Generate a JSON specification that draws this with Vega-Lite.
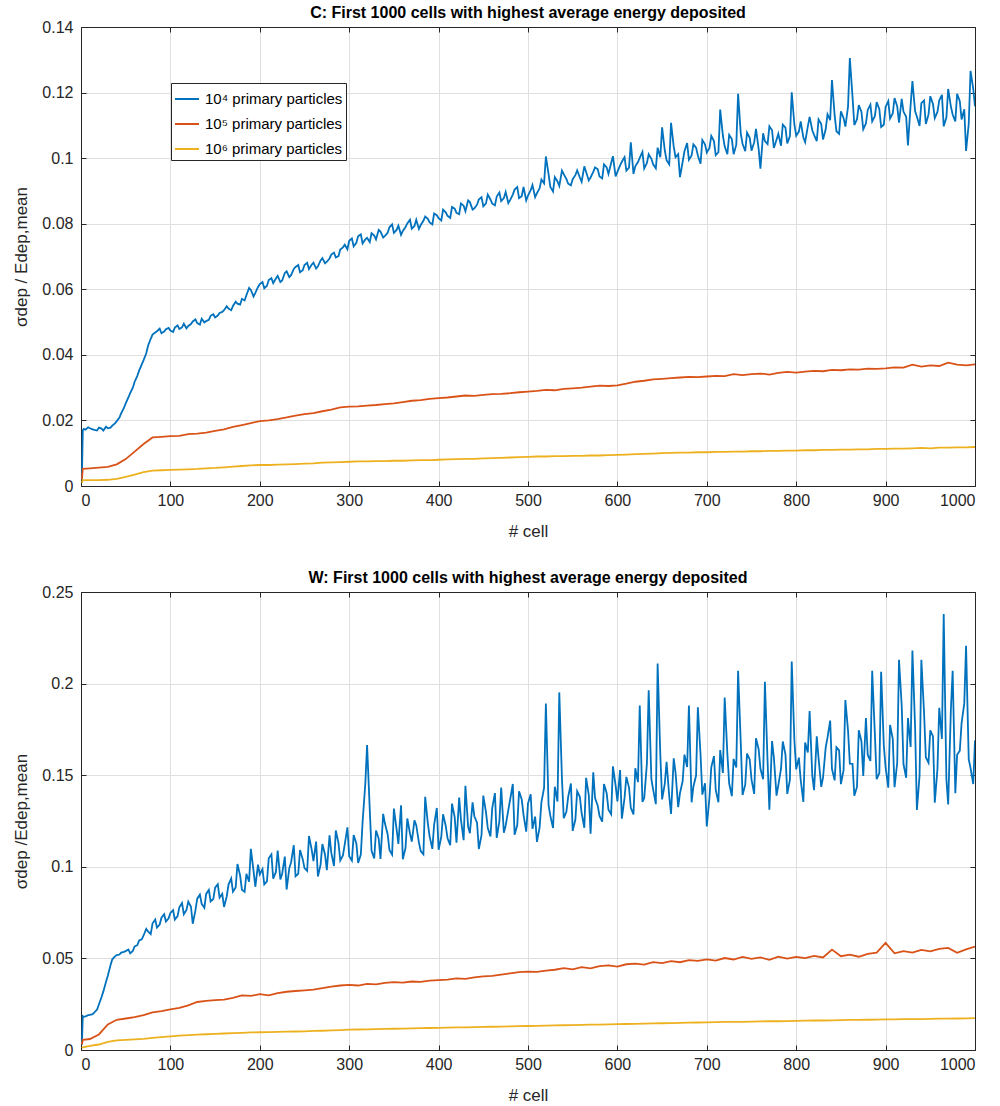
{
"$schema": "https://vega.github.io/schema/vega-lite/v6.json",
"background": "white",
"padding": {"left": 12, "right": 5, "top": 5, "bottom": 5},
"bounds": "flush",
"spacing": 106,
"config": {
 "font": "Liberation Sans",
 "view": {"stroke": null},
 "title": {"fontSize": 16, "fontWeight": "bold", "color": "#000000", "font": "Liberation Sans", "offset": -2},
 "axis": {"domain": true, "domainColor": "#262626", "domainWidth": 1, "grid": true, "gridColor": "#dfdfdf", "gridWidth": 1, "tickColor": "#262626", "tickSize": -5, "labelFontSize": 16, "labelColor": "#262626", "titleFontSize": 17, "titleColor": "#262626", "titleFontWeight": "normal", "labelFont": "Liberation Sans", "titleFont": "Liberation Sans"},
 "axisX": {"labelPadding": 11, "titlePadding": 15},
 "axisY": {"labelPadding": 13, "titlePadding": 11},
 "legend": {"labelFontSize": 15, "labelColor": "#000000", "labelFont": "Liberation Sans", "symbolType": "stroke", "symbolSize": 576, "symbolStrokeWidth": 2, "strokeColor": "#262626", "fillColor": "#ffffff", "padding": 3, "rowPadding": 4, "labelOffset": 5, "cornerRadius": 0}
},
"datasets": {
"C": [
{"x":1,"a":0.002,"b":0.002,"c":0.001},
{"x":2,"a":0.017,"b":0.0052,"c":0.0018},
{"x":5,"a":0.0172},
{"x":10,"a":0.0176,"b":0.0054,"c":0.0018},
{"x":15,"a":0.0171},
{"x":20,"a":0.0178,"b":0.0056,"c":0.0018},
{"x":25,"a":0.0169},
{"x":30,"a":0.0176,"b":0.0058,"c":0.0019},
{"x":35,"a":0.0184},
{"x":40,"a":0.0198,"b":0.0066,"c":0.0022},
{"x":45,"a":0.0222},
{"x":50,"a":0.0252,"b":0.0082,"c":0.0028},
{"x":55,"a":0.0283},
{"x":60,"a":0.0318,"b":0.0105,"c":0.0035},
{"x":65,"a":0.0352},
{"x":70,"a":0.0384,"b":0.0128,"c":0.0042},
{"x":75,"a":0.0428},
{"x":80,"a":0.0462,"b":0.0148,"c":0.0047},
{"x":85,"a":0.0472},
{"x":90,"a":0.0466,"b":0.015,"c":0.0048},
{"x":95,"a":0.0478},
{"x":100,"a":0.0474,"b":0.0152,"c":0.0049},
{"x":105,"a":0.0483},
{"x":110,"a":0.0479,"b":0.0153,"c":0.005},
{"x":115,"a":0.0495},
{"x":120,"a":0.0488,"b":0.0158,"c":0.0051},
{"x":125,"a":0.0502},
{"x":130,"a":0.0497,"b":0.016,"c":0.0052},
{"x":135,"a":0.051},
{"x":140,"a":0.0503,"b":0.0163,"c":0.0054},
{"x":145,"a":0.0519},
{"x":150,"a":0.0514,"b":0.0168,"c":0.0055},
{"x":155,"a":0.0528},
{"x":160,"a":0.0536,"b":0.0173,"c":0.0057},
{"x":165,"a":0.0541},
{"x":170,"a":0.0549,"b":0.018,"c":0.0059},
{"x":175,"a":0.0556},
{"x":180,"a":0.0571,"b":0.0186,"c":0.0061},
{"x":185,"a":0.0582},
{"x":190,"a":0.0598,"b":0.0192,"c":0.0063},
{"x":195,"a":0.0589},
{"x":200,"a":0.0616,"b":0.0198,"c":0.0064},
{"x":205,"a":0.0603},
{"x":210,"a":0.0628,"b":0.02,"c":0.0064},
{"x":215,"a":0.0619},
{"x":220,"a":0.0641,"b":0.0204,"c":0.0065},
{"x":225,"a":0.0627},
{"x":230,"a":0.0655,"b":0.0209,"c":0.0066},
{"x":235,"a":0.0643},
{"x":240,"a":0.0668,"b":0.0215,"c":0.0067},
{"x":245,"a":0.0652},
{"x":250,"a":0.0674,"b":0.0219,"c":0.0068},
{"x":255,"a":0.0662},
{"x":260,"a":0.0681,"b":0.0222,"c":0.0069},
{"x":265,"a":0.067},
{"x":270,"a":0.0695,"b":0.0228,"c":0.0071},
{"x":275,"a":0.0684},
{"x":280,"a":0.0706,"b":0.0233,"c":0.0072},
{"x":285,"a":0.0697},
{"x":290,"a":0.0721,"b":0.024,"c":0.0073},
{"x":295,"a":0.0736},
{"x":300,"a":0.0748,"b":0.0242,"c":0.0074},
{"x":305,"a":0.0731},
{"x":310,"a":0.0762,"b":0.0243,"c":0.0075},
{"x":315,"a":0.074},
{"x":320,"a":0.0757,"b":0.0245,"c":0.0075},
{"x":325,"a":0.0771},
{"x":330,"a":0.0752,"b":0.0247,"c":0.0076},
{"x":335,"a":0.0776},
{"x":340,"a":0.0763,"b":0.025,"c":0.0076},
{"x":345,"a":0.0789},
{"x":350,"a":0.0772,"b":0.0252,"c":0.0077},
{"x":355,"a":0.0794},
{"x":360,"a":0.0778,"b":0.0256,"c":0.0077},
{"x":365,"a":0.0801},
{"x":370,"a":0.0785,"b":0.026,"c":0.0078},
{"x":375,"a":0.0812},
{"x":380,"a":0.0796,"b":0.0262,"c":0.0079},
{"x":385,"a":0.0822},
{"x":390,"a":0.0804,"b":0.0266,"c":0.0079},
{"x":395,"a":0.0831},
{"x":400,"a":0.0817,"b":0.0268,"c":0.008},
{"x":405,"a":0.0843},
{"x":410,"a":0.0824,"b":0.027,"c":0.0081},
{"x":415,"a":0.0851},
{"x":420,"a":0.0833,"b":0.0273,"c":0.0082},
{"x":425,"a":0.0862},
{"x":430,"a":0.0838,"b":0.0276,"c":0.0083},
{"x":435,"a":0.0866},
{"x":440,"a":0.0847,"b":0.0275,"c":0.0083},
{"x":445,"a":0.0874},
{"x":450,"a":0.0853,"b":0.0278,"c":0.0084},
{"x":455,"a":0.0889},
{"x":460,"a":0.0861,"b":0.028,"c":0.0085},
{"x":465,"a":0.0883},
{"x":470,"a":0.0869,"b":0.0281,"c":0.0086},
{"x":475,"a":0.0897},
{"x":480,"a":0.0872,"b":0.0283,"c":0.0087},
{"x":485,"a":0.0904},
{"x":490,"a":0.0878,"b":0.0286,"c":0.0088},
{"x":495,"a":0.0912},
{"x":500,"a":0.0886,"b":0.0288,"c":0.0089},
{"x":505,"a":0.0918},
{"x":510,"a":0.0893,"b":0.029,"c":0.009},
{"x":515,"a":0.0935},
{"x":520,"a":0.1005,"b":0.0293,"c":0.009},
{"x":525,"a":0.0912},
{"x":530,"a":0.0942,"b":0.0292,"c":0.0091},
{"x":535,"a":0.0915},
{"x":540,"a":0.0951,"b":0.0296,"c":0.0091},
{"x":545,"a":0.0922},
{"x":550,"a":0.0936,"b":0.0298,"c":0.0092},
{"x":555,"a":0.0963},
{"x":560,"a":0.0928,"b":0.03,"c":0.0092},
{"x":565,"a":0.0958},
{"x":570,"a":0.0941,"b":0.0303,"c":0.0093},
{"x":575,"a":0.0972},
{"x":580,"a":0.0944,"b":0.0306,"c":0.0093},
{"x":585,"a":0.0981},
{"x":590,"a":0.0952,"b":0.0305,"c":0.0094},
{"x":595,"a":0.1006},
{"x":600,"a":0.0958,"b":0.0307,"c":0.0095},
{"x":605,"a":0.0989},
{"x":610,"a":0.0962,"b":0.0312,"c":0.0096},
{"x":615,"a":0.1048},
{"x":620,"a":0.0975,"b":0.0318,"c":0.0097},
{"x":625,"a":0.1001},
{"x":630,"a":0.0968,"b":0.0321,"c":0.0098},
{"x":635,"a":0.1012},
{"x":640,"a":0.0981,"b":0.0325,"c":0.0099},
{"x":645,"a":0.1032},
{"x":650,"a":0.1094,"b":0.0327,"c":0.01},
{"x":655,"a":0.0994},
{"x":660,"a":0.1108,"b":0.0329,"c":0.0101},
{"x":665,"a":0.1003},
{"x":670,"a":0.0942,"b":0.0331,"c":0.0102},
{"x":675,"a":0.1021},
{"x":680,"a":0.0995,"b":0.0333,"c":0.0102},
{"x":685,"a":0.1042},
{"x":690,"a":0.1008,"b":0.0332,"c":0.0103},
{"x":695,"a":0.1055},
{"x":700,"a":0.1017,"b":0.0334,"c":0.0103},
{"x":705,"a":0.1068},
{"x":710,"a":0.1009,"b":0.0336,"c":0.0104},
{"x":715,"a":0.1148},
{"x":720,"a":0.1036,"b":0.0335,"c":0.0104},
{"x":725,"a":0.1071},
{"x":730,"a":0.1012,"b":0.0341,"c":0.0105},
{"x":735,"a":0.1196},
{"x":740,"a":0.1044,"b":0.0338,"c":0.0105},
{"x":745,"a":0.1078},
{"x":750,"a":0.1023,"b":0.0341,"c":0.0106},
{"x":755,"a":0.1089},
{"x":760,"a":0.0968,"b":0.0343,"c":0.0106},
{"x":765,"a":0.1052},
{"x":770,"a":0.1097,"b":0.034,"c":0.0107},
{"x":775,"a":0.1031},
{"x":780,"a":0.1074,"b":0.0345,"c":0.0107},
{"x":785,"a":0.1102},
{"x":790,"a":0.1045,"b":0.0348,"c":0.0108},
{"x":795,"a":0.1201},
{"x":800,"a":0.1068,"b":0.0346,"c":0.0108},
{"x":805,"a":0.1112},
{"x":810,"a":0.1049,"b":0.0349,"c":0.0109},
{"x":815,"a":0.1126},
{"x":820,"a":0.1071,"b":0.0351,"c":0.0109},
{"x":825,"a":0.1118},
{"x":830,"a":0.1057,"b":0.035,"c":0.011},
{"x":835,"a":0.1134},
{"x":840,"a":0.1238,"b":0.0354,"c":0.011},
{"x":845,"a":0.1082},
{"x":850,"a":0.1143,"b":0.0353,"c":0.0111},
{"x":855,"a":0.1096},
{"x":860,"a":0.1305,"b":0.0356,"c":0.0111},
{"x":865,"a":0.1101},
{"x":870,"a":0.1162,"b":0.0355,"c":0.0112},
{"x":875,"a":0.1088},
{"x":880,"a":0.1147,"b":0.0358,"c":0.0112},
{"x":885,"a":0.1112},
{"x":890,"a":0.1171,"b":0.0357,"c":0.0113},
{"x":895,"a":0.1095},
{"x":900,"a":0.1156,"b":0.0359,"c":0.0113},
{"x":905,"a":0.1121},
{"x":910,"a":0.1183,"b":0.0362,"c":0.0114},
{"x":915,"a":0.1108},
{"x":920,"a":0.1142,"b":0.0361,"c":0.0114},
{"x":925,"a":0.1039},
{"x":930,"a":0.1235,"b":0.037,"c":0.0115},
{"x":935,"a":0.1127},
{"x":940,"a":0.1168,"b":0.0364,"c":0.0116},
{"x":945,"a":0.1104},
{"x":950,"a":0.1189,"b":0.0368,"c":0.0115},
{"x":955,"a":0.1122},
{"x":960,"a":0.1176,"b":0.0366,"c":0.0117},
{"x":965,"a":0.1097},
{"x":970,"a":0.1211,"b":0.0376,"c":0.0117},
{"x":975,"a":0.1133},
{"x":980,"a":0.1196,"b":0.037,"c":0.0118},
{"x":985,"a":0.1118},
{"x":990,"a":0.1022,"b":0.0368,"c":0.0118},
{"x":995,"a":0.1266},
{"x":1000,"a":0.1158,"b":0.0371,"c":0.0119},
{"x":3,"a":0.0174},{"x":8,"a":0.0179},{"x":13,"a":0.0173},{"x":18,"a":0.0169},{"x":23,"a":0.0175},
{"x":28,"a":0.0181},{"x":33,"a":0.0178},{"x":38,"a":0.0191},{"x":43,"a":0.0209},{"x":48,"a":0.0238},
{"x":53,"a":0.027},{"x":58,"a":0.03},{"x":63,"a":0.0336},{"x":68,"a":0.0371},{"x":73,"a":0.0405},
{"x":78,"a":0.0449},{"x":83,"a":0.0468},{"x":88,"a":0.048},{"x":93,"a":0.0471},{"x":98,"a":0.0482},
{"x":103,"a":0.047},{"x":108,"a":0.049},{"x":113,"a":0.0484},{"x":118,"a":0.0481},{"x":123,"a":0.0494},
{"x":128,"a":0.0508},{"x":133,"a":0.0492},{"x":138,"a":0.0499},{"x":143,"a":0.0507},{"x":148,"a":0.0524},
{"x":153,"a":0.052},{"x":158,"a":0.0531},{"x":163,"a":0.0548},{"x":168,"a":0.0536},{"x":173,"a":0.0562},
{"x":178,"a":0.0553},{"x":183,"a":0.0566},{"x":188,"a":0.0604},{"x":193,"a":0.0578},{"x":198,"a":0.0607},
{"x":203,"a":0.0622},{"x":208,"a":0.0611},{"x":213,"a":0.0634},{"x":218,"a":0.0633},{"x":223,"a":0.0622},
{"x":228,"a":0.065},{"x":233,"a":0.0637},{"x":238,"a":0.0662},{"x":243,"a":0.0674},{"x":248,"a":0.0658},
{"x":253,"a":0.0681},{"x":258,"a":0.0675},{"x":263,"a":0.0663},{"x":268,"a":0.0688},{"x":273,"a":0.0679},
{"x":278,"a":0.0694},{"x":283,"a":0.0712},{"x":288,"a":0.0701},{"x":293,"a":0.0728},{"x":298,"a":0.0722},
{"x":303,"a":0.0755},{"x":308,"a":0.0742},{"x":313,"a":0.0768},{"x":318,"a":0.0752},{"x":323,"a":0.0744},
{"x":328,"a":0.0764},{"x":333,"a":0.0781},{"x":338,"a":0.0758},{"x":343,"a":0.0772},{"x":348,"a":0.0798},
{"x":353,"a":0.0781},{"x":358,"a":0.0766},{"x":363,"a":0.079},{"x":368,"a":0.0812},{"x":373,"a":0.0793},
{"x":378,"a":0.0784},{"x":383,"a":0.0809},{"x":388,"a":0.0815},{"x":393,"a":0.0798},{"x":398,"a":0.0826},
{"x":403,"a":0.081},{"x":408,"a":0.0835},{"x":413,"a":0.0818},{"x":418,"a":0.0846},{"x":423,"a":0.0829},
{"x":428,"a":0.0855},{"x":433,"a":0.0871},{"x":438,"a":0.0843},{"x":443,"a":0.0858},{"x":448,"a":0.0881},
{"x":453,"a":0.0862},{"x":458,"a":0.0874},{"x":463,"a":0.0856},{"x":468,"a":0.0895},{"x":473,"a":0.0878},
{"x":478,"a":0.0863},{"x":483,"a":0.0889},{"x":488,"a":0.0912},{"x":493,"a":0.0884},{"x":498,"a":0.0871},
{"x":503,"a":0.0902},{"x":508,"a":0.0881},{"x":513,"a":0.0908},{"x":518,"a":0.0923},{"x":523,"a":0.0951},
{"x":528,"a":0.0898},{"x":533,"a":0.0929},{"x":538,"a":0.0962},{"x":543,"a":0.0936},{"x":548,"a":0.0917},
{"x":553,"a":0.0948},{"x":558,"a":0.0941},{"x":563,"a":0.0975},{"x":568,"a":0.0932},{"x":573,"a":0.0958},
{"x":578,"a":0.0966},{"x":583,"a":0.0938},{"x":588,"a":0.0972},{"x":593,"a":0.0985},{"x":598,"a":0.0944},
{"x":603,"a":0.0978},{"x":608,"a":0.1003},{"x":613,"a":0.0971},{"x":618,"a":0.0952},{"x":623,"a":0.0988},
{"x":628,"a":0.1019},{"x":633,"a":0.0985},{"x":638,"a":0.0998},{"x":643,"a":0.0969},{"x":648,"a":0.1003},
{"x":653,"a":0.1024},{"x":658,"a":0.0981},{"x":663,"a":0.1035},{"x":668,"a":0.1012},{"x":673,"a":0.0989},
{"x":678,"a":0.1046},{"x":683,"a":0.1008},{"x":688,"a":0.1032},{"x":693,"a":0.0983},{"x":698,"a":0.1042},
{"x":703,"a":0.1031},{"x":708,"a":0.1052},{"x":713,"a":0.1018},{"x":718,"a":0.1069},{"x":723,"a":0.1012},
{"x":728,"a":0.1058},{"x":733,"a":0.1041},{"x":738,"a":0.1075},{"x":743,"a":0.1021},{"x":748,"a":0.1062},
{"x":753,"a":0.1048},{"x":758,"a":0.1028},{"x":763,"a":0.1076},{"x":768,"a":0.1043},{"x":773,"a":0.1085},
{"x":778,"a":0.1056},{"x":783,"a":0.1038},{"x":788,"a":0.1093},{"x":793,"a":0.1067},{"x":798,"a":0.1102},
{"x":803,"a":0.1081},{"x":808,"a":0.1063},{"x":813,"a":0.1097},{"x":818,"a":0.1085},{"x":823,"a":0.1052},
{"x":828,"a":0.1104},{"x":833,"a":0.1088},{"x":838,"a":0.1116},{"x":843,"a":0.1131},{"x":848,"a":0.1074},
{"x":853,"a":0.1122},{"x":858,"a":0.1158},{"x":863,"a":0.1187},{"x":868,"a":0.1119},{"x":873,"a":0.1141},
{"x":878,"a":0.1106},{"x":883,"a":0.1163},{"x":888,"a":0.1128},{"x":893,"a":0.1149},{"x":898,"a":0.1102},
{"x":903,"a":0.1174},{"x":908,"a":0.1136},{"x":913,"a":0.1158},{"x":918,"a":0.1181},{"x":923,"a":0.1126},
{"x":928,"a":0.1162},{"x":933,"a":0.1143},{"x":938,"a":0.1098},{"x":943,"a":0.1176},{"x":948,"a":0.1133},
{"x":953,"a":0.1165},{"x":958,"a":0.1141},{"x":963,"a":0.1193},{"x":968,"a":0.1124},{"x":973,"a":0.1158},
{"x":978,"a":0.1112},{"x":983,"a":0.1174},{"x":988,"a":0.1149},{"x":993,"a":0.1105},{"x":998,"a":0.1212}
],
"W": [
{"x":1,"a":0.003,"b":0.003,"c":0.001},
{"x":2,"a":0.0185,"b":0.0055,"c":0.0015},
{"x":5,"a":0.0183},
{"x":10,"a":0.0192,"b":0.006,"c":0.0022},
{"x":15,"a":0.0205},
{"x":20,"a":0.0248,"b":0.0085,"c":0.003},
{"x":25,"a":0.032},
{"x":30,"a":0.0405,"b":0.014,"c":0.0044},
{"x":35,"a":0.0495},
{"x":40,"a":0.0518,"b":0.0165,"c":0.0052},
{"x":45,"a":0.0532},
{"x":50,"a":0.054,"b":0.0172,"c":0.0055},
{"x":55,"a":0.0528},
{"x":60,"a":0.0565,"b":0.018,"c":0.0058},
{"x":65,"a":0.0598},
{"x":70,"a":0.0625,"b":0.019,"c":0.0061},
{"x":75,"a":0.0647},
{"x":80,"a":0.069,"b":0.0205,"c":0.0066},
{"x":85,"a":0.0668},
{"x":90,"a":0.0722,"b":0.0212,"c":0.007},
{"x":95,"a":0.0701},
{"x":100,"a":0.0748,"b":0.0222,"c":0.0074},
{"x":105,"a":0.0712},
{"x":110,"a":0.0779,"b":0.023,"c":0.0078},
{"x":115,"a":0.0741},
{"x":120,"a":0.081,"b":0.0244,"c":0.0081},
{"x":125,"a":0.0689},
{"x":130,"a":0.0826,"b":0.0262,"c":0.0084},
{"x":135,"a":0.0798},
{"x":140,"a":0.0852,"b":0.0268,"c":0.0086},
{"x":145,"a":0.0811},
{"x":150,"a":0.0886,"b":0.0272,"c":0.0088},
{"x":155,"a":0.0832},
{"x":160,"a":0.0781,"b":0.0275,"c":0.009},
{"x":165,"a":0.0903},
{"x":170,"a":0.0864,"b":0.0284,"c":0.0092},
{"x":175,"a":0.1015},
{"x":180,"a":0.0875,"b":0.0298,"c":0.0094},
{"x":185,"a":0.0962},
{"x":190,"a":0.1098,"b":0.0295,"c":0.0096},
{"x":195,"a":0.0891},
{"x":200,"a":0.0958,"b":0.0305,"c":0.0097},
{"x":205,"a":0.0904},
{"x":210,"a":0.1046,"b":0.0298,"c":0.0098},
{"x":215,"a":0.0935},
{"x":220,"a":0.1089,"b":0.031,"c":0.0099},
{"x":225,"a":0.0962},
{"x":230,"a":0.0876,"b":0.0318,"c":0.01},
{"x":235,"a":0.1025},
{"x":240,"a":0.0948,"b":0.0322,"c":0.0101},
{"x":245,"a":0.1092},
{"x":250,"a":0.0993,"b":0.0326,"c":0.0102},
{"x":255,"a":0.1168},
{"x":260,"a":0.1031,"b":0.033,"c":0.0104},
{"x":265,"a":0.0947},
{"x":270,"a":0.1124,"b":0.0338,"c":0.0105},
{"x":275,"a":0.0982},
{"x":280,"a":0.1076,"b":0.0346,"c":0.0107},
{"x":285,"a":0.1198},
{"x":290,"a":0.1035,"b":0.0352,"c":0.0109},
{"x":295,"a":0.1122},
{"x":300,"a":0.1058,"b":0.0355,"c":0.0111},
{"x":305,"a":0.1173},
{"x":310,"a":0.1021,"b":0.0352,"c":0.0112},
{"x":315,"a":0.1245},
{"x":320,"a":0.1665,"b":0.0361,"c":0.0113},
{"x":325,"a":0.1087},
{"x":330,"a":0.1198,"b":0.0358,"c":0.0114},
{"x":335,"a":0.1043},
{"x":340,"a":0.1236,"b":0.0366,"c":0.0115},
{"x":345,"a":0.1092},
{"x":350,"a":0.1318,"b":0.037,"c":0.0116},
{"x":355,"a":0.1125},
{"x":360,"a":0.1041,"b":0.0368,"c":0.0117},
{"x":365,"a":0.1264},
{"x":370,"a":0.1138,"b":0.0374,"c":0.0118},
{"x":375,"a":0.1227},
{"x":380,"a":0.1086,"b":0.0372,"c":0.0119},
{"x":385,"a":0.1382},
{"x":390,"a":0.1165,"b":0.0379,"c":0.012},
{"x":395,"a":0.1231},
{"x":400,"a":0.1093,"b":0.0381,"c":0.0121},
{"x":405,"a":0.1287},
{"x":410,"a":0.1156,"b":0.0384,"c":0.0122},
{"x":415,"a":0.1345},
{"x":420,"a":0.1132,"b":0.0391,"c":0.0123},
{"x":425,"a":0.1258},
{"x":430,"a":0.1442,"b":0.0388,"c":0.0124},
{"x":435,"a":0.1183},
{"x":440,"a":0.1276,"b":0.0396,"c":0.0125},
{"x":445,"a":0.1097},
{"x":450,"a":0.1389,"b":0.0402,"c":0.0126},
{"x":455,"a":0.1212},
{"x":460,"a":0.1321,"b":0.0405,"c":0.0127},
{"x":465,"a":0.1158},
{"x":470,"a":0.1433,"b":0.0412,"c":0.0128},
{"x":475,"a":0.1224},
{"x":480,"a":0.1366,"b":0.0418,"c":0.0129},
{"x":485,"a":0.1175},
{"x":490,"a":0.1412,"b":0.0425,"c":0.013},
{"x":495,"a":0.1283},
{"x":500,"a":0.1346,"b":0.0428,"c":0.0131},
{"x":505,"a":0.1208},
{"x":510,"a":0.1136,"b":0.0426,"c":0.0132},
{"x":515,"a":0.1352},
{"x":520,"a":0.1891,"b":0.0433,"c":0.0133},
{"x":525,"a":0.1278},
{"x":530,"a":0.1437,"b":0.0438,"c":0.0134},
{"x":535,"a":0.1952},
{"x":540,"a":0.1265,"b":0.0447,"c":0.0135},
{"x":545,"a":0.1384},
{"x":550,"a":0.1196,"b":0.044,"c":0.0136},
{"x":555,"a":0.1412},
{"x":560,"a":0.1293,"b":0.0452,"c":0.0137},
{"x":565,"a":0.1486},
{"x":570,"a":0.1181,"b":0.0446,"c":0.0138},
{"x":575,"a":0.1375},
{"x":580,"a":0.1278,"b":0.0458,"c":0.0139},
{"x":585,"a":0.1452},
{"x":590,"a":0.1312,"b":0.0462,"c":0.014},
{"x":595,"a":0.1548},
{"x":600,"a":0.1357,"b":0.0455,"c":0.0141},
{"x":605,"a":0.1263},
{"x":610,"a":0.1491,"b":0.0468,"c":0.0142},
{"x":615,"a":0.1322},
{"x":620,"a":0.1538,"b":0.0472,"c":0.0143},
{"x":625,"a":0.188},
{"x":630,"a":0.1376,"b":0.0466,"c":0.0144},
{"x":635,"a":0.1964},
{"x":640,"a":0.1421,"b":0.048,"c":0.0145},
{"x":645,"a":0.211},
{"x":650,"a":0.1368,"b":0.0474,"c":0.0146},
{"x":655,"a":0.1573},
{"x":660,"a":0.1289,"b":0.0485,"c":0.0147},
{"x":665,"a":0.1516},
{"x":670,"a":0.1402,"b":0.0479,"c":0.0148},
{"x":675,"a":0.1612},
{"x":680,"a":0.188,"b":0.0491,"c":0.0149},
{"x":685,"a":0.1437},
{"x":690,"a":0.1871,"b":0.0486,"c":0.015},
{"x":695,"a":0.1394},
{"x":700,"a":0.122,"b":0.0495,"c":0.0151},
{"x":705,"a":0.1543},
{"x":710,"a":0.1418,"b":0.0488,"c":0.0152},
{"x":715,"a":0.1637},
{"x":720,"a":0.1924,"b":0.0502,"c":0.0153},
{"x":725,"a":0.1456},
{"x":730,"a":0.1589,"b":0.0494,"c":0.0153},
{"x":735,"a":0.207},
{"x":740,"a":0.1392,"b":0.0508,"c":0.0154},
{"x":745,"a":0.1618},
{"x":750,"a":0.1477,"b":0.0497,"c":0.0155},
{"x":755,"a":0.1702},
{"x":760,"a":0.1535,"b":0.0505,"c":0.0156},
{"x":765,"a":0.201},
{"x":770,"a":0.1312,"b":0.0492,"c":0.0157},
{"x":775,"a":0.1598},
{"x":780,"a":0.1446,"b":0.051,"c":0.0157},
{"x":785,"a":0.1684},
{"x":790,"a":0.1398,"b":0.0499,"c":0.0158},
{"x":795,"a":0.212},
{"x":800,"a":0.1532,"b":0.0508,"c":0.0159},
{"x":805,"a":0.1475},
{"x":810,"a":0.1678,"b":0.0502,"c":0.016},
{"x":815,"a":0.185},
{"x":820,"a":0.1418,"b":0.0514,"c":0.0161},
{"x":825,"a":0.1593},
{"x":830,"a":0.1487,"b":0.0505,"c":0.0161},
{"x":835,"a":0.1705},
{"x":840,"a":0.1535,"b":0.0548,"c":0.0162},
{"x":845,"a":0.1652},
{"x":850,"a":0.1451,"b":0.0512,"c":0.0163},
{"x":855,"a":0.191},
{"x":860,"a":0.1563,"b":0.052,"c":0.0164},
{"x":865,"a":0.1388},
{"x":870,"a":0.1745,"b":0.0509,"c":0.0164},
{"x":875,"a":0.1496},
{"x":880,"a":0.1612,"b":0.0525,"c":0.0165},
{"x":885,"a":0.207},
{"x":890,"a":0.1478,"b":0.0531,"c":0.0166},
{"x":895,"a":0.2065},
{"x":900,"a":0.1542,"b":0.0585,"c":0.0167},
{"x":905,"a":0.1774},
{"x":910,"a":0.1435,"b":0.0528,"c":0.0167},
{"x":915,"a":0.213},
{"x":920,"a":0.1561,"b":0.054,"c":0.0168},
{"x":925,"a":0.1812},
{"x":930,"a":0.218,"b":0.0532,"c":0.0169},
{"x":935,"a":0.131},
{"x":940,"a":0.213,"b":0.0546,"c":0.0169},
{"x":945,"a":0.1598},
{"x":950,"a":0.1745,"b":0.0538,"c":0.017},
{"x":955,"a":0.135},
{"x":960,"a":0.1868,"b":0.0552,"c":0.0171},
{"x":965,"a":0.238},
{"x":970,"a":0.134,"b":0.0557,"c":0.0171},
{"x":975,"a":0.207},
{"x":980,"a":0.1612,"b":0.0531,"c":0.0172},
{"x":985,"a":0.1785},
{"x":990,"a":0.2206,"b":0.0549,"c":0.0173},
{"x":995,"a":0.154},
{"x":1000,"a":0.169,"b":0.0565,"c":0.0174},
{"x":3,"a":0.0181},{"x":8,"a":0.019},{"x":13,"a":0.0196},{"x":18,"a":0.0221},{"x":23,"a":0.0289},
{"x":28,"a":0.0372},{"x":33,"a":0.0462},{"x":38,"a":0.0511},{"x":43,"a":0.0521},{"x":48,"a":0.0536},
{"x":53,"a":0.0549},{"x":58,"a":0.0541},{"x":63,"a":0.0572},{"x":68,"a":0.0604},{"x":73,"a":0.0661},
{"x":78,"a":0.0632},{"x":83,"a":0.0712},{"x":88,"a":0.0685},{"x":93,"a":0.0741},{"x":98,"a":0.0719},
{"x":103,"a":0.0763},{"x":108,"a":0.0731},{"x":113,"a":0.0802},{"x":118,"a":0.0765},{"x":123,"a":0.0782},
{"x":128,"a":0.0762},{"x":133,"a":0.0848},{"x":138,"a":0.0776},{"x":143,"a":0.0874},{"x":148,"a":0.0824},
{"x":153,"a":0.0905},{"x":158,"a":0.0852},{"x":163,"a":0.0838},{"x":168,"a":0.0936},{"x":173,"a":0.0887},
{"x":178,"a":0.0952},{"x":183,"a":0.0864},{"x":188,"a":0.0918},{"x":193,"a":0.0978},{"x":198,"a":0.1012},
{"x":203,"a":0.0987},{"x":208,"a":0.0921},{"x":213,"a":0.1068},{"x":218,"a":0.0972},{"x":223,"a":0.0931},
{"x":228,"a":0.1056},{"x":233,"a":0.0993},{"x":238,"a":0.1118},{"x":243,"a":0.0962},{"x":248,"a":0.1042},
{"x":253,"a":0.0978},{"x":258,"a":0.1095},{"x":263,"a":0.1138},{"x":268,"a":0.1012},{"x":273,"a":0.1066},
{"x":278,"a":0.1172},{"x":283,"a":0.1004},{"x":288,"a":0.1131},{"x":293,"a":0.1062},{"x":298,"a":0.1215},
{"x":303,"a":0.1034},{"x":308,"a":0.1128},{"x":313,"a":0.1067},{"x":318,"a":0.1452},{"x":323,"a":0.1312},
{"x":328,"a":0.1046},{"x":333,"a":0.1154},{"x":338,"a":0.1289},{"x":343,"a":0.1178},{"x":348,"a":0.1067},
{"x":353,"a":0.1206},{"x":358,"a":0.1336},{"x":363,"a":0.1103},{"x":368,"a":0.1182},{"x":373,"a":0.1254},
{"x":378,"a":0.1132},{"x":383,"a":0.1068},{"x":388,"a":0.1236},{"x":393,"a":0.1098},{"x":398,"a":0.1321},
{"x":403,"a":0.1164},{"x":408,"a":0.1223},{"x":413,"a":0.1118},{"x":418,"a":0.1271},{"x":423,"a":0.1378},
{"x":428,"a":0.1145},{"x":433,"a":0.1221},{"x":438,"a":0.1352},{"x":443,"a":0.1241},{"x":448,"a":0.1173},
{"x":453,"a":0.1298},{"x":458,"a":0.1166},{"x":463,"a":0.1402},{"x":468,"a":0.1249},{"x":473,"a":0.1186},
{"x":478,"a":0.1311},{"x":483,"a":0.1452},{"x":488,"a":0.1228},{"x":493,"a":0.1367},{"x":498,"a":0.1192},
{"x":503,"a":0.1396},{"x":508,"a":0.1274},{"x":513,"a":0.1215},{"x":518,"a":0.1432},{"x":523,"a":0.1336},
{"x":528,"a":0.1212},{"x":533,"a":0.1356},{"x":538,"a":0.1478},{"x":543,"a":0.1302},{"x":548,"a":0.1455},
{"x":553,"a":0.1258},{"x":558,"a":0.1382},{"x":563,"a":0.1213},{"x":568,"a":0.1392},{"x":573,"a":0.1516},
{"x":578,"a":0.1334},{"x":583,"a":0.1246},{"x":588,"a":0.1402},{"x":593,"a":0.1287},{"x":598,"a":0.1445},
{"x":603,"a":0.1528},{"x":608,"a":0.1376},{"x":613,"a":0.1432},{"x":618,"a":0.1286},{"x":623,"a":0.1462},
{"x":628,"a":0.1354},{"x":633,"a":0.1563},{"x":638,"a":0.1478},{"x":643,"a":0.1342},{"x":648,"a":0.1612},
{"x":653,"a":0.1452},{"x":658,"a":0.1384},{"x":663,"a":0.1592},{"x":668,"a":0.1326},{"x":673,"a":0.1468},
{"x":678,"a":0.1545},{"x":683,"a":0.1352},{"x":688,"a":0.1498},{"x":693,"a":0.1612},{"x":698,"a":0.1456},
{"x":703,"a":0.1378},{"x":708,"a":0.1604},{"x":713,"a":0.1352},{"x":718,"a":0.1512},{"x":723,"a":0.1618},
{"x":728,"a":0.1386},{"x":733,"a":0.1542},{"x":738,"a":0.1676},{"x":743,"a":0.1448},{"x":748,"a":0.1586},
{"x":753,"a":0.1398},{"x":758,"a":0.1642},{"x":763,"a":0.1478},{"x":768,"a":0.1572},{"x":773,"a":0.1686},
{"x":778,"a":0.1388},{"x":783,"a":0.1534},{"x":788,"a":0.1612},{"x":793,"a":0.1475},{"x":798,"a":0.1688},
{"x":803,"a":0.1596},{"x":808,"a":0.1354},{"x":813,"a":0.1624},{"x":818,"a":0.1498},{"x":823,"a":0.1712},
{"x":828,"a":0.1436},{"x":833,"a":0.1652},{"x":838,"a":0.1798},{"x":843,"a":0.1472},{"x":848,"a":0.1635},
{"x":853,"a":0.1528},{"x":858,"a":0.1742},{"x":863,"a":0.1562},{"x":868,"a":0.1436},{"x":873,"a":0.1684},
{"x":878,"a":0.1812},{"x":883,"a":0.1578},{"x":888,"a":0.1724},{"x":893,"a":0.1512},{"x":898,"a":0.1664},
{"x":903,"a":0.1432},{"x":908,"a":0.1698},{"x":913,"a":0.1568},{"x":918,"a":0.1882},{"x":923,"a":0.1486},
{"x":928,"a":0.1654},{"x":933,"a":0.1762},{"x":938,"a":0.1498},{"x":943,"a":0.1842},{"x":948,"a":0.1568},
{"x":953,"a":0.1712},{"x":958,"a":0.1534},{"x":963,"a":0.1698},{"x":968,"a":0.1478},{"x":973,"a":0.1856},
{"x":978,"a":0.1402},{"x":983,"a":0.1634},{"x":988,"a":0.1892},{"x":993,"a":0.1586},{"x":998,"a":0.1452}
]
},
"vconcat": [
{
 "width": 894, "height": 459,
 "title": {"text": "C: First 1000 cells with highest average energy deposited"},
 "data": {"name": "C"},
 "transform": [{"fold": ["a","b","c"], "as": ["s","y"]}, {"filter": "isValid(datum.y)"}],
 "layer": [
  {"mark": {"type": "line", "strokeWidth": 1.8, "clip": true},
   "encoding": {
    "x": {"field": "x", "type": "quantitative", "scale": {"domain": [0,1000], "nice": false, "zero": false}, "axis": {"values": [0,100,200,300,400,500,600,700,800,900,1000], "format": "d", "title": "# cell"}},
    "y": {"field": "y", "type": "quantitative", "scale": {"domain": [0,0.14], "nice": false}, "axis": {"values": [0,0.02,0.04,0.06,0.08,0.1,0.12,0.14], "format": "~g", "title": "σdep / Edep,mean"}},
    "color": {"field": "s", "type": "nominal", "scale": {"domain": ["a","b","c"], "range": ["#0072BD","#D95319","#EDB120"]}, "legend": {"orient": "none", "legendX": 90, "legendY": 56, "title": null, "labelExpr": "{'a':'10⁴ primary particles','b':'10⁵ primary particles','c':'10⁶ primary particles'}[datum.label]"}}
   }},
  {"mark": {"type": "point", "opacity": 0},
   "encoding": {
    "x": {"field": "x", "type": "quantitative", "axis": {"orient": "top", "values": [0,100,200,300,400,500,600,700,800,900,1000], "labels": false, "title": null, "grid": false}},
    "y": {"field": "y", "type": "quantitative", "axis": {"orient": "right", "values": [0,0.02,0.04,0.06,0.08,0.1,0.12,0.14], "labels": false, "title": null, "grid": false}}
   }}
 ],
 "resolve": {"axis": {"x": "independent", "y": "independent"}}
},
{
 "width": 894, "height": 458,
 "title": {"text": "W: First 1000 cells with highest average energy deposited"},
 "data": {"name": "W"},
 "transform": [{"fold": ["a","b","c"], "as": ["s","y"]}, {"filter": "isValid(datum.y)"}],
 "layer": [
  {"mark": {"type": "line", "strokeWidth": 1.8, "clip": true},
   "encoding": {
    "x": {"field": "x", "type": "quantitative", "scale": {"domain": [0,1000], "nice": false, "zero": false}, "axis": {"values": [0,100,200,300,400,500,600,700,800,900,1000], "format": "d", "title": "# cell"}},
    "y": {"field": "y", "type": "quantitative", "scale": {"domain": [0,0.25], "nice": false}, "axis": {"values": [0,0.05,0.1,0.15,0.2,0.25], "format": "~g", "title": "σdep /Edep,mean"}},
    "color": {"field": "s", "type": "nominal", "scale": {"domain": ["a","b","c"], "range": ["#0072BD","#D95319","#EDB120"]}, "legend": {"orient": "none", "legendX": 90, "legendY": 41, "title": null, "labelExpr": "{'a':'10⁴ primary particles','b':'10⁵ primary particles','c':'10⁶ primary particles'}[datum.label]"}}
   }},
  {"mark": {"type": "point", "opacity": 0},
   "encoding": {
    "x": {"field": "x", "type": "quantitative", "axis": {"orient": "top", "values": [0,100,200,300,400,500,600,700,800,900,1000], "labels": false, "title": null, "grid": false}},
    "y": {"field": "y", "type": "quantitative", "axis": {"orient": "right", "values": [0,0.05,0.1,0.15,0.2,0.25], "labels": false, "title": null, "grid": false}}
   }}
 ],
 "resolve": {"axis": {"x": "independent", "y": "independent"}}
}
]
}
